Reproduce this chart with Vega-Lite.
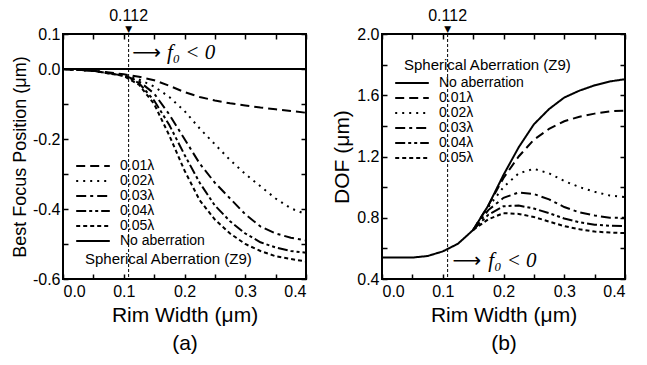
{
  "$schema": "https://vega.github.io/schema/vega-lite/v6.json",
  "padding": {"left": 10, "top": 7, "right": 5, "bottom": 2},
  "background": "white",
  "bounds": "flush",
  "spacing": 76,
  "resolve": {"scale": {"strokeDash": "independent"}, "legend": {"strokeDash": "independent"}},
  "datasets": {
    "bf": [
      {"x": 0, "y": 0, "s": "No aberration"}, {"x": 0.2, "y": 0, "s": "No aberration"}, {"x": 0.4, "y": 0, "s": "No aberration"},
      {"x": 0, "y": 0, "s": "0.01λ"}, {"x": 0.05, "y": -0.005, "s": "0.01λ"}, {"x": 0.1, "y": -0.015, "s": "0.01λ"}, {"x": 0.125, "y": -0.022, "s": "0.01λ"}, {"x": 0.15, "y": -0.032, "s": "0.01λ"}, {"x": 0.175, "y": -0.048, "s": "0.01λ"}, {"x": 0.2, "y": -0.066, "s": "0.01λ"}, {"x": 0.225, "y": -0.08, "s": "0.01λ"}, {"x": 0.25, "y": -0.09, "s": "0.01λ"}, {"x": 0.275, "y": -0.098, "s": "0.01λ"}, {"x": 0.3, "y": -0.104, "s": "0.01λ"}, {"x": 0.325, "y": -0.11, "s": "0.01λ"}, {"x": 0.35, "y": -0.115, "s": "0.01λ"}, {"x": 0.375, "y": -0.12, "s": "0.01λ"}, {"x": 0.4, "y": -0.125, "s": "0.01λ"},
      {"x": 0, "y": 0, "s": "0.02λ"}, {"x": 0.05, "y": -0.005, "s": "0.02λ"}, {"x": 0.1, "y": -0.017, "s": "0.02λ"}, {"x": 0.125, "y": -0.03, "s": "0.02λ"}, {"x": 0.15, "y": -0.05, "s": "0.02λ"}, {"x": 0.175, "y": -0.08, "s": "0.02λ"}, {"x": 0.2, "y": -0.12, "s": "0.02λ"}, {"x": 0.225, "y": -0.17, "s": "0.02λ"}, {"x": 0.25, "y": -0.215, "s": "0.02λ"}, {"x": 0.275, "y": -0.26, "s": "0.02λ"}, {"x": 0.3, "y": -0.3, "s": "0.02λ"}, {"x": 0.325, "y": -0.335, "s": "0.02λ"}, {"x": 0.35, "y": -0.37, "s": "0.02λ"}, {"x": 0.375, "y": -0.398, "s": "0.02λ"}, {"x": 0.4, "y": -0.415, "s": "0.02λ"},
      {"x": 0, "y": 0, "s": "0.03λ"}, {"x": 0.05, "y": -0.005, "s": "0.03λ"}, {"x": 0.1, "y": -0.018, "s": "0.03λ"}, {"x": 0.125, "y": -0.035, "s": "0.03λ"}, {"x": 0.15, "y": -0.07, "s": "0.03λ"}, {"x": 0.175, "y": -0.13, "s": "0.03λ"}, {"x": 0.2, "y": -0.2, "s": "0.03λ"}, {"x": 0.225, "y": -0.27, "s": "0.03λ"}, {"x": 0.25, "y": -0.325, "s": "0.03λ"}, {"x": 0.275, "y": -0.37, "s": "0.03λ"}, {"x": 0.3, "y": -0.415, "s": "0.03λ"}, {"x": 0.325, "y": -0.45, "s": "0.03λ"}, {"x": 0.35, "y": -0.47, "s": "0.03λ"}, {"x": 0.375, "y": -0.482, "s": "0.03λ"}, {"x": 0.4, "y": -0.49, "s": "0.03λ"},
      {"x": 0, "y": 0, "s": "0.04λ"}, {"x": 0.05, "y": -0.005, "s": "0.04λ"}, {"x": 0.1, "y": -0.019, "s": "0.04λ"}, {"x": 0.125, "y": -0.04, "s": "0.04λ"}, {"x": 0.15, "y": -0.09, "s": "0.04λ"}, {"x": 0.175, "y": -0.16, "s": "0.04λ"}, {"x": 0.2, "y": -0.245, "s": "0.04λ"}, {"x": 0.225, "y": -0.325, "s": "0.04λ"}, {"x": 0.25, "y": -0.39, "s": "0.04λ"}, {"x": 0.275, "y": -0.435, "s": "0.04λ"}, {"x": 0.3, "y": -0.47, "s": "0.04λ"}, {"x": 0.325, "y": -0.495, "s": "0.04λ"}, {"x": 0.35, "y": -0.51, "s": "0.04λ"}, {"x": 0.375, "y": -0.52, "s": "0.04λ"}, {"x": 0.4, "y": -0.525, "s": "0.04λ"},
      {"x": 0, "y": 0, "s": "0.05λ"}, {"x": 0.05, "y": -0.005, "s": "0.05λ"}, {"x": 0.1, "y": -0.02, "s": "0.05λ"}, {"x": 0.125, "y": -0.045, "s": "0.05λ"}, {"x": 0.15, "y": -0.1, "s": "0.05λ"}, {"x": 0.175, "y": -0.19, "s": "0.05λ"}, {"x": 0.2, "y": -0.29, "s": "0.05λ"}, {"x": 0.225, "y": -0.375, "s": "0.05λ"}, {"x": 0.25, "y": -0.43, "s": "0.05λ"}, {"x": 0.275, "y": -0.47, "s": "0.05λ"}, {"x": 0.3, "y": -0.5, "s": "0.05λ"}, {"x": 0.325, "y": -0.52, "s": "0.05λ"}, {"x": 0.35, "y": -0.535, "s": "0.05λ"}, {"x": 0.375, "y": -0.543, "s": "0.05λ"}, {"x": 0.4, "y": -0.55, "s": "0.05λ"}
    ],
    "dof": [
      {"x": 0, "y": 0.54, "s": "No aberration"}, {"x": 0.05, "y": 0.54, "s": "No aberration"}, {"x": 0.075, "y": 0.55, "s": "No aberration"}, {"x": 0.1, "y": 0.58, "s": "No aberration"}, {"x": 0.125, "y": 0.63, "s": "No aberration"}, {"x": 0.15, "y": 0.72, "s": "No aberration"}, {"x": 0.175, "y": 0.88, "s": "No aberration"}, {"x": 0.2, "y": 1.08, "s": "No aberration"}, {"x": 0.225, "y": 1.26, "s": "No aberration"}, {"x": 0.25, "y": 1.41, "s": "No aberration"}, {"x": 0.275, "y": 1.51, "s": "No aberration"}, {"x": 0.3, "y": 1.585, "s": "No aberration"}, {"x": 0.325, "y": 1.63, "s": "No aberration"}, {"x": 0.35, "y": 1.665, "s": "No aberration"}, {"x": 0.375, "y": 1.69, "s": "No aberration"}, {"x": 0.4, "y": 1.705, "s": "No aberration"},
      {"x": 0.15, "y": 0.72, "s": "0.01λ"}, {"x": 0.175, "y": 0.88, "s": "0.01λ"}, {"x": 0.2, "y": 1.06, "s": "0.01λ"}, {"x": 0.225, "y": 1.2, "s": "0.01λ"}, {"x": 0.25, "y": 1.31, "s": "0.01λ"}, {"x": 0.275, "y": 1.38, "s": "0.01λ"}, {"x": 0.3, "y": 1.43, "s": "0.01λ"}, {"x": 0.325, "y": 1.46, "s": "0.01λ"}, {"x": 0.35, "y": 1.48, "s": "0.01λ"}, {"x": 0.375, "y": 1.495, "s": "0.01λ"}, {"x": 0.4, "y": 1.5, "s": "0.01λ"},
      {"x": 0.15, "y": 0.72, "s": "0.02λ"}, {"x": 0.175, "y": 0.87, "s": "0.02λ"}, {"x": 0.2, "y": 1.0, "s": "0.02λ"}, {"x": 0.225, "y": 1.09, "s": "0.02λ"}, {"x": 0.25, "y": 1.12, "s": "0.02λ"}, {"x": 0.275, "y": 1.09, "s": "0.02λ"}, {"x": 0.3, "y": 1.04, "s": "0.02λ"}, {"x": 0.325, "y": 1.0, "s": "0.02λ"}, {"x": 0.35, "y": 0.97, "s": "0.02λ"}, {"x": 0.375, "y": 0.945, "s": "0.02λ"}, {"x": 0.4, "y": 0.935, "s": "0.02λ"},
      {"x": 0.15, "y": 0.72, "s": "0.03λ"}, {"x": 0.175, "y": 0.85, "s": "0.03λ"}, {"x": 0.2, "y": 0.93, "s": "0.03λ"}, {"x": 0.225, "y": 0.965, "s": "0.03λ"}, {"x": 0.25, "y": 0.955, "s": "0.03λ"}, {"x": 0.275, "y": 0.92, "s": "0.03λ"}, {"x": 0.3, "y": 0.87, "s": "0.03λ"}, {"x": 0.325, "y": 0.835, "s": "0.03λ"}, {"x": 0.35, "y": 0.815, "s": "0.03λ"}, {"x": 0.375, "y": 0.8, "s": "0.03λ"}, {"x": 0.4, "y": 0.8, "s": "0.03λ"},
      {"x": 0.15, "y": 0.72, "s": "0.04λ"}, {"x": 0.175, "y": 0.82, "s": "0.04λ"}, {"x": 0.2, "y": 0.875, "s": "0.04λ"}, {"x": 0.225, "y": 0.88, "s": "0.04λ"}, {"x": 0.25, "y": 0.86, "s": "0.04λ"}, {"x": 0.275, "y": 0.83, "s": "0.04λ"}, {"x": 0.3, "y": 0.795, "s": "0.04λ"}, {"x": 0.325, "y": 0.77, "s": "0.04λ"}, {"x": 0.35, "y": 0.755, "s": "0.04λ"}, {"x": 0.375, "y": 0.748, "s": "0.04λ"}, {"x": 0.4, "y": 0.745, "s": "0.04λ"},
      {"x": 0.15, "y": 0.72, "s": "0.05λ"}, {"x": 0.175, "y": 0.79, "s": "0.05λ"}, {"x": 0.2, "y": 0.83, "s": "0.05λ"}, {"x": 0.225, "y": 0.825, "s": "0.05λ"}, {"x": 0.25, "y": 0.805, "s": "0.05λ"}, {"x": 0.275, "y": 0.775, "s": "0.05λ"}, {"x": 0.3, "y": 0.745, "s": "0.05λ"}, {"x": 0.325, "y": 0.725, "s": "0.05λ"}, {"x": 0.35, "y": 0.71, "s": "0.05λ"}, {"x": 0.375, "y": 0.703, "s": "0.05λ"}, {"x": 0.4, "y": 0.7, "s": "0.05λ"}
    ]
  },
  "hconcat": [
    {
      "width": 243,
      "height": 245,
      "resolve": {"axis": {"x": "independent", "y": "independent"}},
      "layer": [
        {
          "data": {"values": [{"x": 0.108}]},
          "mark": {"type": "rule", "strokeDash": [3, 2], "strokeWidth": 1, "color": "black"},
          "encoding": {"x": {"field": "x", "type": "quantitative", "axis": null}}
        },
        {
          "data": {"name": "bf"},
          "mark": {"type": "line", "color": "black", "strokeWidth": 2},
          "encoding": {
            "x": {"field": "x", "type": "quantitative", "scale": {"domain": [0, 0.4], "nice": false},
              "axis": {"values": [0, 0.05, 0.1, 0.15, 0.2, 0.25, 0.3, 0.35, 0.4], "labelPadding": 9, "labelExpr": "round(datum.value*100)%10==0 ? format(datum.value,'.1f') : ''", "title": ["Rim Width (μm)", "(a)"], "titlePadding": 5}},
            "y": {"field": "y", "type": "quantitative", "scale": {"domain": [-0.6, 0.1], "nice": false, "zero": false},
              "axis": {"values": [-0.6, -0.5, -0.4, -0.3, -0.2, -0.1, 0, 0.1], "labelPadding": 8, "labelExpr": "(round(datum.value*10)%2==0 || round(datum.value*10)==1) ? (datum.value < -0.001 ? '-' + format(-datum.value,'.1f') : format(abs(datum.value),'.1f')) : ''", "title": "Best Focus Position (μm)", "titleFontSize": 18, "titlePadding": 3}},
            "strokeDash": {"field": "s", "type": "nominal",
              "scale": {"domain": ["0.01λ", "0.02λ", "0.03λ", "0.04λ", "0.05λ", "No aberration"], "range": [[9, 5], [2, 5], [10, 4, 3, 4], [10, 3, 3, 3, 3, 3], [4, 3], [1, 0]]},
              "legend": {"orient": "none", "legendX": 22, "legendY": 124, "title": "Spherical Aberration (Z9)", "titleOrient": "bottom", "titleAnchor": "start", "titlePadding": 4}}
          }
        },
        {
          "data": {"name": "bf"},
          "mark": {"type": "point", "opacity": 0},
          "encoding": {
            "x": {"field": "x", "type": "quantitative", "axis": {"orient": "top", "labels": false, "title": null, "values": [0, 0.05, 0.1, 0.15, 0.2, 0.25, 0.3, 0.35, 0.4]}},
            "y": {"field": "y", "type": "quantitative", "axis": {"orient": "right", "labels": false, "title": null, "values": [-0.6, -0.5, -0.4, -0.3, -0.2, -0.1, 0, 0.1]}}
          }
        },
        {
          "data": {"values": [{"x": 0.108, "y": 0.1, "t": "0.112"}]},
          "mark": {"type": "text", "fontSize": 16, "dy": -18, "baseline": "middle", "align": "center", "font": "Liberation Sans"},
          "encoding": {"x": {"field": "x", "type": "quantitative", "axis": null}, "y": {"field": "y", "type": "quantitative", "axis": null}, "text": {"field": "t"}}
        },
        {
          "data": {"values": [{"x": 0.108, "y": 0.1, "t": "▼"}]},
          "mark": {"type": "text", "fontSize": 9, "dy": 0, "baseline": "bottom", "align": "center", "font": "DejaVu Sans"},
          "encoding": {"x": {"field": "x", "type": "quantitative", "axis": null}, "y": {"field": "y", "type": "quantitative", "axis": null}, "text": {"field": "t"}}
        },
        {
          "data": {"values": [{"x": 0.114, "y": 0.046, "t": "⟶"}]},
          "mark": {"type": "text", "fontSize": 20, "baseline": "middle", "align": "left", "font": "DejaVu Sans"},
          "encoding": {"x": {"field": "x", "type": "quantitative", "axis": null}, "y": {"field": "y", "type": "quantitative", "axis": null}, "text": {"field": "t"}}
        },
        {
          "data": {"values": [{"x": 0.171, "y": 0.046, "t": "f₀ < 0"}]},
          "mark": {"type": "text", "fontSize": 21, "baseline": "middle", "align": "left", "font": "Liberation Serif", "fontStyle": "italic"},
          "encoding": {"x": {"field": "x", "type": "quantitative", "axis": null}, "y": {"field": "y", "type": "quantitative", "axis": null}, "text": {"field": "t"}}
        }
      ]
    },
    {
      "width": 243,
      "height": 245,
      "resolve": {"axis": {"x": "independent", "y": "independent"}},
      "layer": [
        {
          "data": {"values": [{"x": 0.108}]},
          "mark": {"type": "rule", "strokeDash": [3, 2], "strokeWidth": 1, "color": "black"},
          "encoding": {"x": {"field": "x", "type": "quantitative", "axis": null}}
        },
        {
          "data": {"name": "dof"},
          "mark": {"type": "line", "color": "black", "strokeWidth": 2},
          "encoding": {
            "x": {"field": "x", "type": "quantitative", "scale": {"domain": [0, 0.4], "nice": false},
              "axis": {"values": [0, 0.05, 0.1, 0.15, 0.2, 0.25, 0.3, 0.35, 0.4], "labelPadding": 9, "labelExpr": "round(datum.value*100)%10==0 ? format(datum.value,'.1f') : ''", "title": ["Rim Width (μm)", "(b)"], "titlePadding": 5}},
            "y": {"field": "y", "type": "quantitative", "scale": {"domain": [0.4, 2.0], "nice": false, "zero": false},
              "axis": {"values": [0.4, 0.6, 0.8, 1.0, 1.2, 1.4, 1.6, 1.8, 2.0], "labelPadding": 8, "labelExpr": "round(datum.value*10)%4==0 ? format(datum.value,'.1f') : ''", "title": "DOF (μm)", "titleFontSize": 21}},
            "strokeDash": {"field": "s", "type": "nominal",
              "scale": {"domain": ["No aberration", "0.01λ", "0.02λ", "0.03λ", "0.04λ", "0.05λ"], "range": [[1, 0], [9, 5], [2, 5], [10, 4, 3, 4], [10, 3, 3, 3, 3, 3], [4, 3]]},
              "legend": {"orient": "none", "legendX": 22, "legendY": 24, "title": "Spherical Aberration (Z9)", "titleAnchor": "start", "titlePadding": 2}}
          }
        },
        {
          "data": {"name": "dof"},
          "mark": {"type": "point", "opacity": 0},
          "encoding": {
            "x": {"field": "x", "type": "quantitative", "axis": {"orient": "top", "labels": false, "title": null, "values": [0, 0.05, 0.1, 0.15, 0.2, 0.25, 0.3, 0.35, 0.4]}},
            "y": {"field": "y", "type": "quantitative", "axis": {"orient": "right", "labels": false, "title": null, "values": [0.4, 0.6, 0.8, 1.0, 1.2, 1.4, 1.6, 1.8, 2.0]}}
          }
        },
        {
          "data": {"values": [{"x": 0.108, "y": 2.0, "t": "0.112"}]},
          "mark": {"type": "text", "fontSize": 16, "dy": -18, "baseline": "middle", "align": "center", "font": "Liberation Sans"},
          "encoding": {"x": {"field": "x", "type": "quantitative", "axis": null}, "y": {"field": "y", "type": "quantitative", "axis": null}, "text": {"field": "t"}}
        },
        {
          "data": {"values": [{"x": 0.108, "y": 2.0, "t": "▼"}]},
          "mark": {"type": "text", "fontSize": 9, "baseline": "bottom", "align": "center", "font": "DejaVu Sans"},
          "encoding": {"x": {"field": "x", "type": "quantitative", "axis": null}, "y": {"field": "y", "type": "quantitative", "axis": null}, "text": {"field": "t"}}
        },
        {
          "data": {"values": [{"x": 0.116, "y": 0.516, "t": "⟶"}]},
          "mark": {"type": "text", "fontSize": 20, "baseline": "middle", "align": "left", "font": "DejaVu Sans"},
          "encoding": {"x": {"field": "x", "type": "quantitative", "axis": null}, "y": {"field": "y", "type": "quantitative", "axis": null}, "text": {"field": "t"}}
        },
        {
          "data": {"values": [{"x": 0.175, "y": 0.516, "t": "f₀ < 0"}]},
          "mark": {"type": "text", "fontSize": 21, "baseline": "middle", "align": "left", "font": "Liberation Serif", "fontStyle": "italic"},
          "encoding": {"x": {"field": "x", "type": "quantitative", "axis": null}, "y": {"field": "y", "type": "quantitative", "axis": null}, "text": {"field": "t"}}
        }
      ]
    }
  ],
  "config": {
    "font": "Liberation Sans",
    "view": {"stroke": "black", "strokeWidth": 2},
    "axis": {"domain": false, "grid": false, "tickColor": "black", "tickSize": -5, "tickWidth": 1.5, "labelColor": "black", "labelFont": "Liberation Sans", "labelFontSize": 16, "labelPadding": 4, "titleFont": "Liberation Sans", "titleFontWeight": "normal", "titleColor": "black", "titleFontSize": 21, "titleLineHeight": 28, "titlePadding": 4},
    "legend": {"symbolType": "M-2.4,0H2.4", "symbolStrokeWidth": 2, "symbolStrokeColor": "black", "symbolFillColor": "transparent", "symbolSize": 196, "labelFont": "Liberation Sans", "labelFontSize": 14, "labelColor": "black", "titleFont": "Liberation Sans", "titleFontSize": 15, "titleFontWeight": "normal", "titleColor": "black", "rowPadding": 0, "labelOffset": 19, "padding": 0, "titleLimit": 300}
  }
}
